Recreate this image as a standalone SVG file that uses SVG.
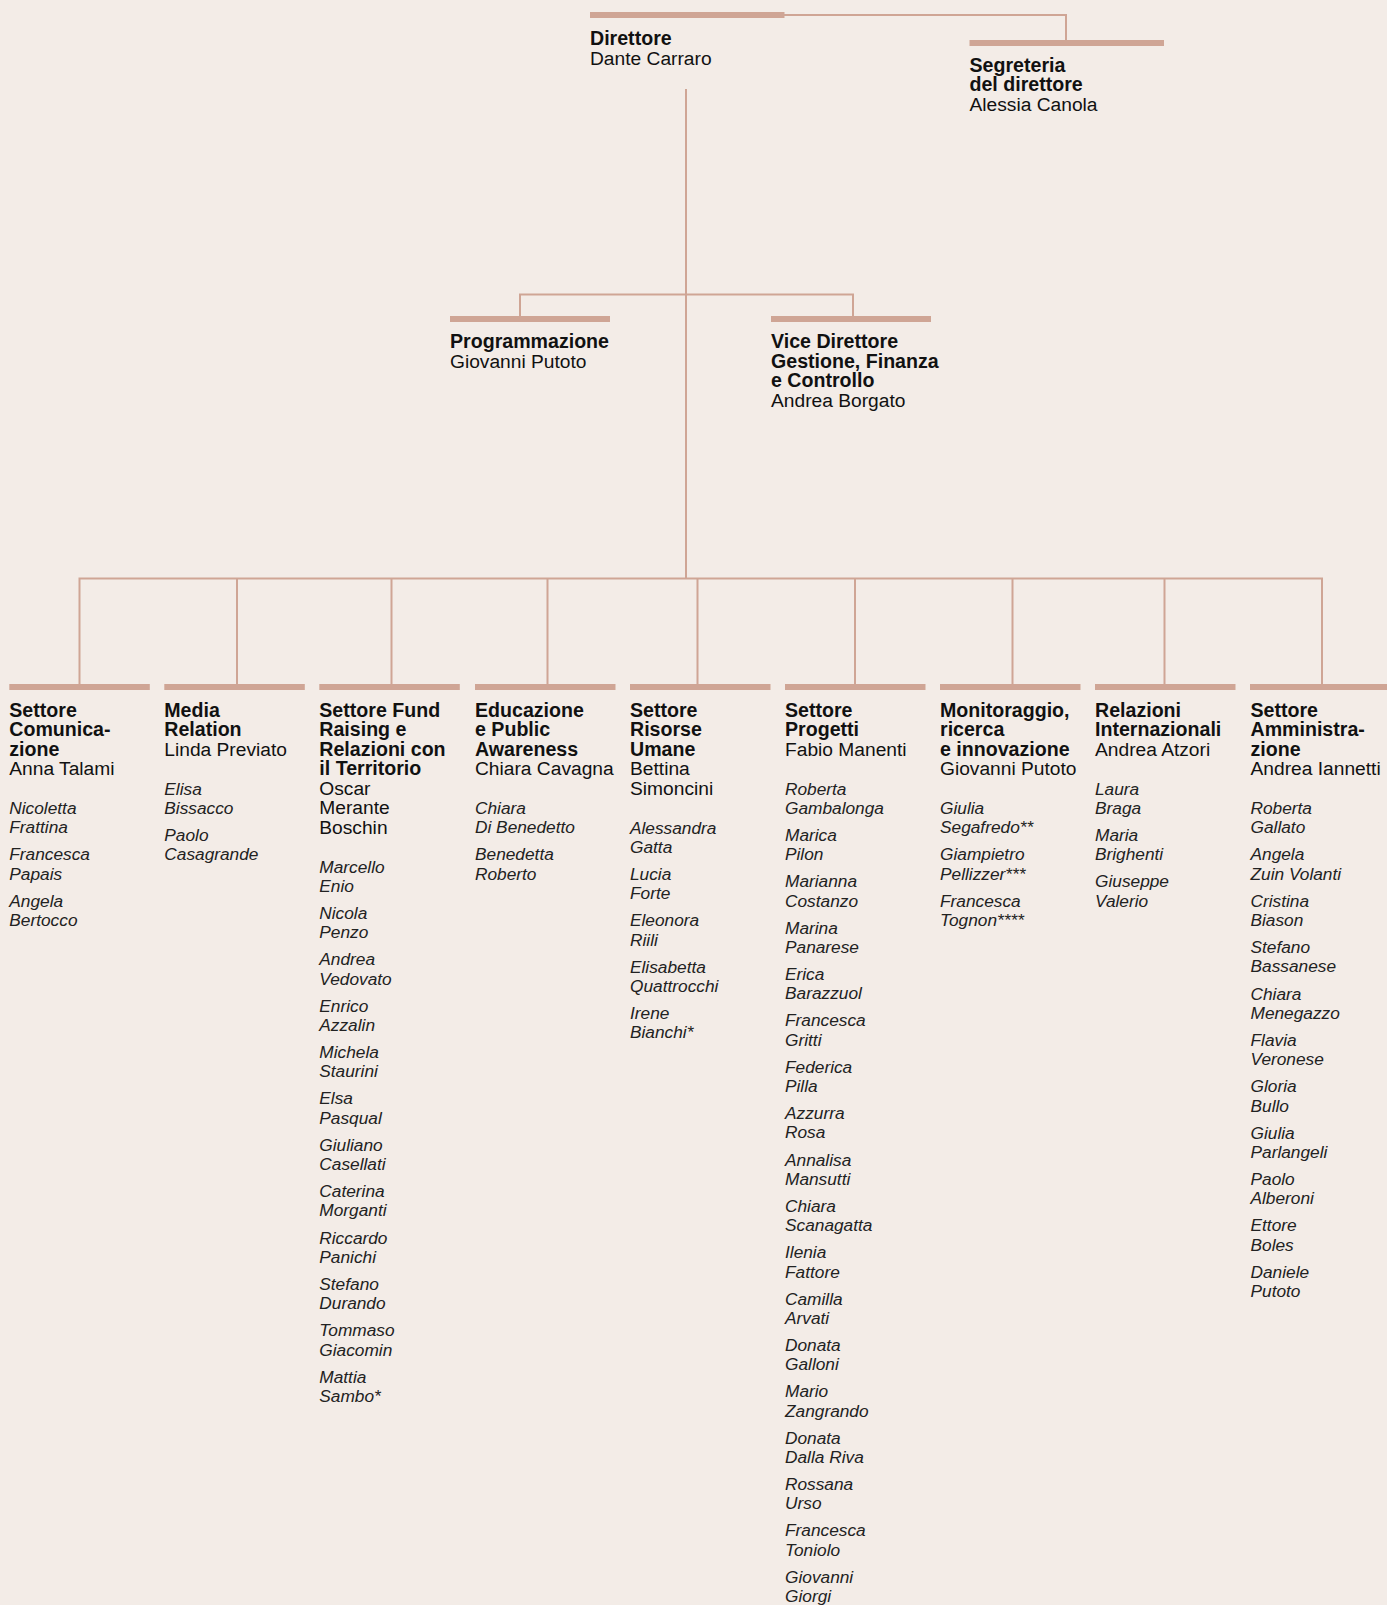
<svg xmlns="http://www.w3.org/2000/svg" width="1387" height="1605" viewBox="0 0 1387 1605">
<style>
  .bg { fill: #F3ECE7; }
  .bar { fill: #CFA595; }
  .ln { fill: none; stroke: #CFA595; stroke-width: 2; }
  text { font-family: "Liberation Sans", Arial, sans-serif; fill: #111111; }
  .h { font-size: 19.2px; }
  .b { font-weight: bold; font-size: 19.6px; }
  .r { font-weight: normal; }
  .m { font-size: 17.3px; font-style: italic; fill: #222222; }
</style>
<rect class="bg" x="0" y="0" width="1387" height="1605"/>

<g id="connectors">
  <path class="ln" d="M784,15 H1066 V40"/>
  <path class="ln" d="M686,89 V578.5"/>
  <path class="ln" d="M520,316 V294.5 H853 V316"/>
  <path class="ln" d="M79.5,684 V578.5 H1322 V684"/>
  <path class="ln" d="M237,578.5 V684"/>
  <path class="ln" d="M391.5,578.5 V684"/>
  <path class="ln" d="M547.5,578.5 V684"/>
  <path class="ln" d="M697.5,578.5 V684"/>
  <path class="ln" d="M855,578.5 V684"/>
  <path class="ln" d="M1012.5,578.5 V684"/>
  <path class="ln" d="M1164.5,578.5 V684"/>
</g>

<g id="n-direttore">
  <rect class="bar" x="590" y="12" width="194.5" height="6"/>
  <text class="h" x="590" y="45"><tspan class="b">Direttore</tspan><tspan class="r" x="590" dy="19.5">Dante Carraro</tspan></text>
</g>

<g id="n-segreteria">
  <rect class="bar" x="969.5" y="40" width="194.5" height="6"/>
  <text class="h" x="969.5" y="71.5"><tspan class="b">Segreteria</tspan><tspan class="b" x="969.5" dy="19.5">del direttore</tspan><tspan class="r" x="969.5" dy="19.5">Alessia Canola</tspan></text>
</g>

<g id="n-programmazione">
  <rect class="bar" x="450" y="316" width="160" height="6"/>
  <text class="h" x="450" y="348.3"><tspan class="b">Programmazione</tspan><tspan class="r" x="450" dy="19.3">Giovanni Putoto</tspan></text>
</g>

<g id="n-vice">
  <rect class="bar" x="771" y="316" width="160" height="6"/>
  <text class="h" x="771" y="348.3"><tspan class="b">Vice Direttore</tspan><tspan class="b" x="771" dy="19.4">Gestione, Finanza</tspan><tspan class="b" x="771" dy="19.4">e Controllo</tspan><tspan class="r" x="771" dy="19.8">Andrea Borgato</tspan></text>
</g>

<g id="n-comunicazione">
  <rect class="bar" x="9.3" y="684" width="140.5" height="6"/>
  <text class="h" x="9.3" y="716.5"><tspan class="b">Settore</tspan><tspan class="b" x="9.3" dy="19.5">Comunica-</tspan><tspan class="b" x="9.3" dy="19.5">zione</tspan><tspan class="r" x="9.3" dy="19.5">Anna Talami</tspan></text>
  <text class="m" x="9.3" y="814">Nicoletta<tspan x="9.3" dy="19.3">Frattina</tspan></text>
  <text class="m" x="9.3" y="860.4">Francesca<tspan x="9.3" dy="19.3">Papais</tspan></text>
  <text class="m" x="9.3" y="906.7">Angela<tspan x="9.3" dy="19.3">Bertocco</tspan></text>
</g>

<g id="n-media">
  <rect class="bar" x="164.3" y="684" width="140.5" height="6"/>
  <text class="h" x="164.3" y="716.5"><tspan class="b">Media</tspan><tspan class="b" x="164.3" dy="19.5">Relation</tspan><tspan class="r" x="164.3" dy="19.5">Linda Previato</tspan></text>
  <text class="m" x="164.3" y="794.5">Elisa<tspan x="164.3" dy="19.3">Bissacco</tspan></text>
  <text class="m" x="164.3" y="840.9">Paolo<tspan x="164.3" dy="19.3">Casagrande</tspan></text>
</g>

<g id="n-fundraising">
  <rect class="bar" x="319.3" y="684" width="140.5" height="6"/>
  <text class="h" x="319.3" y="716.5"><tspan class="b">Settore Fund</tspan><tspan class="b" x="319.3" dy="19.5">Raising e</tspan><tspan class="b" x="319.3" dy="19.5">Relazioni con</tspan><tspan class="b" x="319.3" dy="19.5">il Territorio</tspan><tspan class="r" x="319.3" dy="19.5">Oscar</tspan><tspan class="r" x="319.3" dy="19.5">Merante</tspan><tspan class="r" x="319.3" dy="19.5">Boschin</tspan></text>
  <text class="m" x="319.3" y="872.5">Marcello<tspan x="319.3" dy="19.3">Enio</tspan></text>
  <text class="m" x="319.3" y="918.9">Nicola<tspan x="319.3" dy="19.3">Penzo</tspan></text>
  <text class="m" x="319.3" y="965.2">Andrea<tspan x="319.3" dy="19.3">Vedovato</tspan></text>
  <text class="m" x="319.3" y="1011.6">Enrico<tspan x="319.3" dy="19.3">Azzalin</tspan></text>
  <text class="m" x="319.3" y="1058">Michela<tspan x="319.3" dy="19.3">Staurini</tspan></text>
  <text class="m" x="319.3" y="1104.4">Elsa<tspan x="319.3" dy="19.3">Pasqual</tspan></text>
  <text class="m" x="319.3" y="1150.7">Giuliano<tspan x="319.3" dy="19.3">Casellati</tspan></text>
  <text class="m" x="319.3" y="1197.1">Caterina<tspan x="319.3" dy="19.3">Morganti</tspan></text>
  <text class="m" x="319.3" y="1243.5">Riccardo<tspan x="319.3" dy="19.3">Panichi</tspan></text>
  <text class="m" x="319.3" y="1289.8">Stefano<tspan x="319.3" dy="19.3">Durando</tspan></text>
  <text class="m" x="319.3" y="1336.2">Tommaso<tspan x="319.3" dy="19.3">Giacomin</tspan></text>
  <text class="m" x="319.3" y="1382.6">Mattia<tspan x="319.3" dy="19.3">Sambo*</tspan></text>
</g>

<g id="n-educazione">
  <rect class="bar" x="475" y="684" width="140.5" height="6"/>
  <text class="h" x="475" y="716.5"><tspan class="b">Educazione</tspan><tspan class="b" x="475" dy="19.5">e Public</tspan><tspan class="b" x="475" dy="19.5">Awareness</tspan><tspan class="r" x="475" dy="19.5">Chiara Cavagna</tspan></text>
  <text class="m" x="475" y="814">Chiara<tspan x="475" dy="19.3">Di Benedetto</tspan></text>
  <text class="m" x="475" y="860.4">Benedetta<tspan x="475" dy="19.3">Roberto</tspan></text>
</g>

<g id="n-risorseumane">
  <rect class="bar" x="630" y="684" width="140.5" height="6"/>
  <text class="h" x="630" y="716.5"><tspan class="b">Settore</tspan><tspan class="b" x="630" dy="19.5">Risorse</tspan><tspan class="b" x="630" dy="19.5">Umane</tspan><tspan class="r" x="630" dy="19.5">Bettina</tspan><tspan class="r" x="630" dy="19.5">Simoncini</tspan></text>
  <text class="m" x="630" y="833.5">Alessandra<tspan x="630" dy="19.3">Gatta</tspan></text>
  <text class="m" x="630" y="879.9">Lucia<tspan x="630" dy="19.3">Forte</tspan></text>
  <text class="m" x="630" y="926.2">Eleonora<tspan x="630" dy="19.3">Riili</tspan></text>
  <text class="m" x="630" y="972.6">Elisabetta<tspan x="630" dy="19.3">Quattrocchi</tspan></text>
  <text class="m" x="630" y="1019">Irene<tspan x="630" dy="19.3">Bianchi*</tspan></text>
</g>

<g id="n-progetti">
  <rect class="bar" x="785" y="684" width="140.5" height="6"/>
  <text class="h" x="785" y="716.5"><tspan class="b">Settore</tspan><tspan class="b" x="785" dy="19.5">Progetti</tspan><tspan class="r" x="785" dy="19.5">Fabio Manenti</tspan></text>
  <text class="m" x="785" y="794.5">Roberta<tspan x="785" dy="19.3">Gambalonga</tspan></text>
  <text class="m" x="785" y="840.9">Marica<tspan x="785" dy="19.3">Pilon</tspan></text>
  <text class="m" x="785" y="887.2">Marianna<tspan x="785" dy="19.3">Costanzo</tspan></text>
  <text class="m" x="785" y="933.6">Marina<tspan x="785" dy="19.3">Panarese</tspan></text>
  <text class="m" x="785" y="980">Erica<tspan x="785" dy="19.3">Barazzuol</tspan></text>
  <text class="m" x="785" y="1026.4">Francesca<tspan x="785" dy="19.3">Gritti</tspan></text>
  <text class="m" x="785" y="1072.7">Federica<tspan x="785" dy="19.3">Pilla</tspan></text>
  <text class="m" x="785" y="1119.1">Azzurra<tspan x="785" dy="19.3">Rosa</tspan></text>
  <text class="m" x="785" y="1165.5">Annalisa<tspan x="785" dy="19.3">Mansutti</tspan></text>
  <text class="m" x="785" y="1211.8">Chiara<tspan x="785" dy="19.3">Scanagatta</tspan></text>
  <text class="m" x="785" y="1258.2">Ilenia<tspan x="785" dy="19.3">Fattore</tspan></text>
  <text class="m" x="785" y="1304.6">Camilla<tspan x="785" dy="19.3">Arvati</tspan></text>
  <text class="m" x="785" y="1351">Donata<tspan x="785" dy="19.3">Galloni</tspan></text>
  <text class="m" x="785" y="1397.3">Mario<tspan x="785" dy="19.3">Zangrando</tspan></text>
  <text class="m" x="785" y="1443.7">Donata<tspan x="785" dy="19.3">Dalla Riva</tspan></text>
  <text class="m" x="785" y="1490.1">Rossana<tspan x="785" dy="19.3">Urso</tspan></text>
  <text class="m" x="785" y="1536.4">Francesca<tspan x="785" dy="19.3">Toniolo</tspan></text>
  <text class="m" x="785" y="1582.8">Giovanni<tspan x="785" dy="19.3">Giorgi</tspan></text>
</g>

<g id="n-monitoraggio">
  <rect class="bar" x="940" y="684" width="140.5" height="6"/>
  <text class="h" x="940" y="716.5"><tspan class="b">Monitoraggio,</tspan><tspan class="b" x="940" dy="19.5">ricerca</tspan><tspan class="b" x="940" dy="19.5">e innovazione</tspan><tspan class="r" x="940" dy="19.5">Giovanni Putoto</tspan></text>
  <text class="m" x="940" y="814">Giulia<tspan x="940" dy="19.3">Segafredo**</tspan></text>
  <text class="m" x="940" y="860.4">Giampietro<tspan x="940" dy="19.3">Pellizzer***</tspan></text>
  <text class="m" x="940" y="906.7">Francesca<tspan x="940" dy="19.3">Tognon****</tspan></text>
</g>

<g id="n-relazioni">
  <rect class="bar" x="1095" y="684" width="140.5" height="6"/>
  <text class="h" x="1095" y="716.5"><tspan class="b">Relazioni</tspan><tspan class="b" x="1095" dy="19.5">Internazionali</tspan><tspan class="r" x="1095" dy="19.5">Andrea Atzori</tspan></text>
  <text class="m" x="1095" y="794.5">Laura<tspan x="1095" dy="19.3">Braga</tspan></text>
  <text class="m" x="1095" y="840.9">Maria<tspan x="1095" dy="19.3">Brighenti</tspan></text>
  <text class="m" x="1095" y="887.2">Giuseppe<tspan x="1095" dy="19.3">Valerio</tspan></text>
</g>

<g id="n-amministrazione">
  <rect class="bar" x="1250" y="684" width="137" height="6"/>
  <text class="h" x="1250.5" y="716.5"><tspan class="b">Settore</tspan><tspan class="b" x="1250.5" dy="19.5">Amministra-</tspan><tspan class="b" x="1250.5" dy="19.5">zione</tspan><tspan class="r" x="1250.5" dy="19.5">Andrea Iannetti</tspan></text>
  <text class="m" x="1250.5" y="814">Roberta<tspan x="1250.5" dy="19.3">Gallato</tspan></text>
  <text class="m" x="1250.5" y="860.4">Angela<tspan x="1250.5" dy="19.3">Zuin Volanti</tspan></text>
  <text class="m" x="1250.5" y="906.7">Cristina<tspan x="1250.5" dy="19.3">Biason</tspan></text>
  <text class="m" x="1250.5" y="953.1">Stefano<tspan x="1250.5" dy="19.3">Bassanese</tspan></text>
  <text class="m" x="1250.5" y="999.5">Chiara<tspan x="1250.5" dy="19.3">Menegazzo</tspan></text>
  <text class="m" x="1250.5" y="1045.9">Flavia<tspan x="1250.5" dy="19.3">Veronese</tspan></text>
  <text class="m" x="1250.5" y="1092.2">Gloria<tspan x="1250.5" dy="19.3">Bullo</tspan></text>
  <text class="m" x="1250.5" y="1138.6">Giulia<tspan x="1250.5" dy="19.3">Parlangeli</tspan></text>
  <text class="m" x="1250.5" y="1185">Paolo<tspan x="1250.5" dy="19.3">Alberoni</tspan></text>
  <text class="m" x="1250.5" y="1231.3">Ettore<tspan x="1250.5" dy="19.3">Boles</tspan></text>
  <text class="m" x="1250.5" y="1277.7">Daniele<tspan x="1250.5" dy="19.3">Putoto</tspan></text>
</g>
</svg>
